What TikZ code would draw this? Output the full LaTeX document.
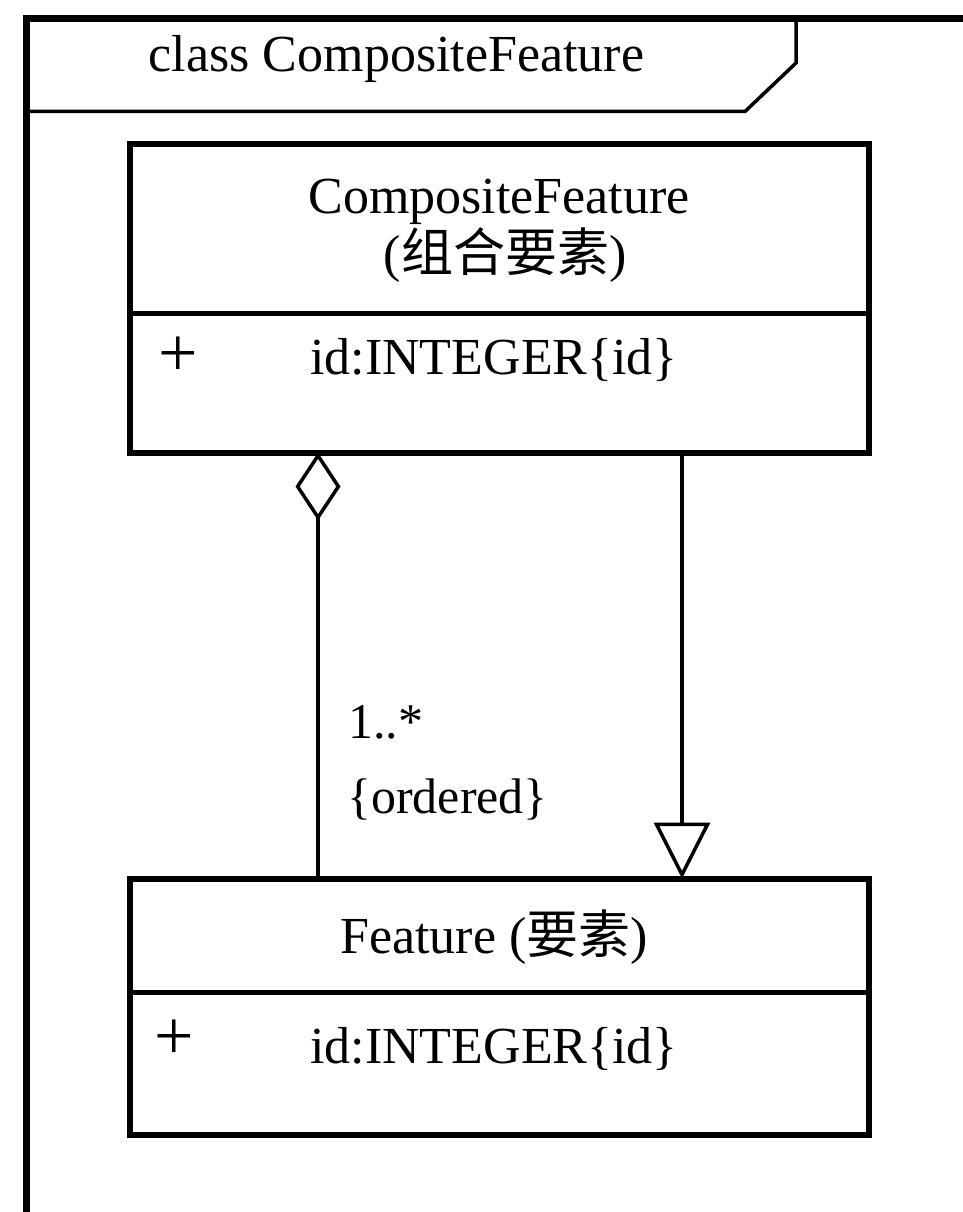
\documentclass[tikz,border=0pt]{standalone}
\usepackage{fontspec}
\setmainfont{Liberation Serif}
\newfontfamily\cjk{Noto Sans CJK SC}
\usetikzlibrary{arrows.meta}

\begin{document}
\begin{tikzpicture}[x=1pt,y=-1pt,
  frameline/.style={line width=7pt},
  tabline/.style={line width=3.5pt},
  classbox/.style={draw, line width=6pt, rectangle, inner sep=0pt, outer sep=0pt},
  sepline/.style={line width=5pt},
  lbl/.style={font=\fontsize{52}{62}\selectfont, inner sep=0pt},
  note/.style={font=\fontsize{50}{60}\selectfont, inner sep=0pt},
  vis/.style={font=\fontsize{70}{80}\selectfont, inner sep=0pt},
  link/.style={line width=3.5pt},
]
\useasboundingbox (0,0) rectangle (963,1212);

% package frame with its name tab
\draw[frameline] (26.5,1212) -- (26.5,18.5) -- (963,18.5);
\draw[tabline] (26.5,111.5) -- (745,111.5) -- (796,63) -- (796,18.5);
\node[lbl, anchor=base] (title) at (396.5,72) {class CompositeFeature};

% class CompositeFeature
\node[classbox, minimum width=739pt, minimum height=309pt] (comp) at (499.5,298) {};
\node[lbl, anchor=base] (compname) at (499,213) {CompositeFeature};
\node[lbl, anchor=base] (compcn) at (505,271) {({\cjk 组合要素})};
\draw[sepline] (comp.west |- 0,313) -- (comp.east |- 0,313);
\node[vis] (compplus) at (178,357) {+};
\node[lbl, anchor=base west] (compattr) at (310,374) {id:INTEGER\{id\}};

% class Feature
\node[classbox, minimum width=739pt, minimum height=256.5pt] (feat) at (499.5,1006.75) {};
\node[lbl, anchor=base] (featname) at (494,953) {Feature ({\cjk 要素})};
\draw[sepline] (feat.west |- 0,992) -- (feat.east |- 0,992);
\node[vis] (featplus) at (174,1040) {+};
\node[lbl, anchor=base west] (featattr) at (310,1063) {id:INTEGER\{id\}};

% aggregation and generalization
\coordinate (aggx) at (318,0);
\coordinate (genx) at (682,0);
\draw[link, -{Diamond[open, length=68pt, width=45pt, line width=3.5pt]}]
  (feat.north -| aggx) -- (comp.south -| aggx);
\draw[link, -{Triangle[open, length=56pt, width=56pt, line width=3.5pt]}]
  (comp.south -| genx) -- (feat.north -| genx);

\node[note, anchor=base west] (mult) at (348,738) {1..*};
\node[note, anchor=base west] (ord) at (347,813) {\{ordered\}};
\end{tikzpicture}
\end{document}
